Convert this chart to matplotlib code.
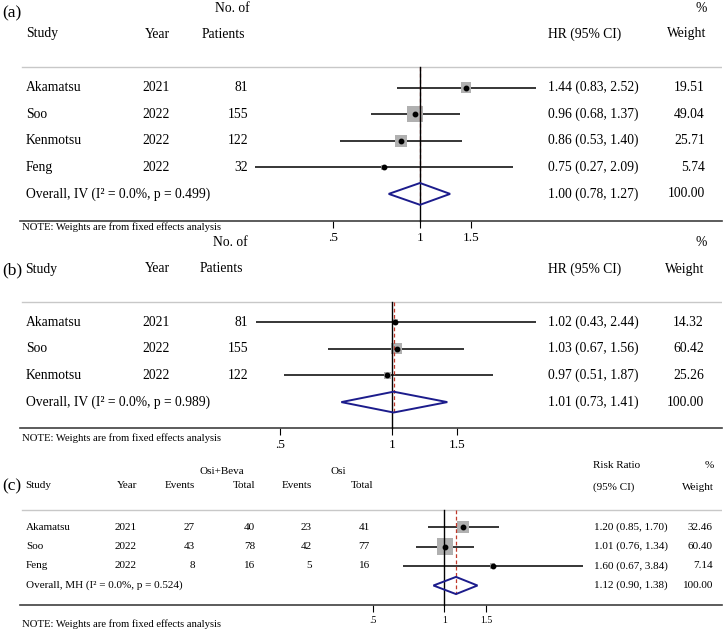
import numpy as np
import matplotlib
matplotlib.use('Agg')
import matplotlib.pyplot as plt
from matplotlib.patches import Polygon
from matplotlib.transforms import blended_transform_factory

plt.rcParams['font.family'] = ['Liberation Serif', 'DejaVu Serif']

# ---- data ----
# (a) HR
studies_a = ['Akamatsu', 'Soo', 'Kenmotsu', 'Feng']
years_a = [2021, 2022, 2022, 2022]
patients_a = [81, 155, 122, 32]
hr_a = [1.44, 0.96, 0.86, 0.75]
lo_a = [0.83, 0.68, 0.53, 0.27]
hi_a = [2.52, 1.37, 1.40, 2.09]
weight_a = [19.51, 49.04, 25.71, 5.74]
overall_a = [1.00, 0.78, 1.27]
overall_label_a = 'Overall, IV (I² = 0.0%, p = 0.499)'

# (b) HR
studies_b = ['Akamatsu', 'Soo', 'Kenmotsu']
years_b = [2021, 2022, 2022]
patients_b = [81, 155, 122]
hr_b = [1.02, 1.03, 0.97]
lo_b = [0.43, 0.67, 0.51]
hi_b = [2.44, 1.56, 1.87]
weight_b = [14.32, 60.42, 25.26]
overall_b = [1.01, 0.73, 1.41]
overall_label_b = 'Overall, IV (I² = 0.0%, p = 0.989)'

# (c) risk ratio
studies_c = ['Akamatsu', 'Soo', 'Feng']
years_c = [2021, 2022, 2022]
events_osibeva = [27, 43, 8]
total_osibeva = [40, 78, 16]
events_osi = [23, 42, 5]
total_osi = [41, 77, 16]
rr_c = [1.20, 1.01, 1.60]
lo_c = [0.85, 0.76, 0.67]
hi_c = [1.70, 1.34, 3.84]
weight_c = [32.46, 60.40, 7.14]
overall_c = [1.12, 0.90, 1.38]
overall_label_c = 'Overall, MH (I² = 0.0%, p = 0.524)'

tick_vals = [0.5, 1, 1.5]
tick_labels = ['.5', '1', '1.5']
note = 'NOTE: Weights are from fixed effects analysis'

W, H = 727, 629
fig = plt.figure(figsize=(W / 100, H / 100), dpi=100)


def make_panel(row0, sp, axis_px, top_px, p1, s, fs, tick_fs):
    ax = fig.add_axes([20 / W, 1 - axis_px / H, 702 / W, (axis_px - top_px) / H])
    ax.set_xscale('log')
    ax.set_xlim(np.exp((20 - p1) / s), np.exp((722 - p1) / s))
    ax.set_ylim((axis_px - row0) / sp, (top_px - row0) / sp)
    for side in ['top', 'left', 'right']:
        ax.spines[side].set_visible(False)
    ax.spines['bottom'].set_color('#404040')
    ax.spines['bottom'].set_linewidth(1.2)
    ax.set_yticks([])
    ax.set_xticks(tick_vals)
    ax.set_xticklabels(tick_labels)
    ax.set_xticks([], minor=True)
    ax.tick_params(axis='x', length=5, width=0.8, labelsize=tick_fs, pad=3, colors='black')
    ax.patch.set_visible(False)
    ax.tr = blended_transform_factory(fig.transFigure, ax.transData)
    ax.to_row = lambda px: (px - row0) / sp
    ax.fs = fs
    return ax


def txt(ax, px, y, s, ha='left'):
    ax.text(px / W, y, s, transform=ax.tr, ha=ha, va='center', fontsize=ax.fs)


def forest(ax, est, lo, hi, w, k, ov, dh, sep_y):
    y = np.arange(len(est))
    ax.hlines(y, lo, hi, color='black', lw=1.1, zorder=2)
    side = k * np.sqrt(np.array(w)) * 0.72
    ax.scatter(est, y, marker='s', s=side ** 2, color='#b0b0b0', linewidths=0, zorder=3)
    ax.plot(est, y, 'o', color='black', ms=3.2, zorder=5)
    yo = len(est)
    ax.add_patch(Polygon([(ov[1], yo), (ov[0], yo - dh), (ov[2], yo), (ov[0], yo + dh)],
                         closed=True, fill=False, ec='#1c1c8c', lw=1.4, zorder=4))
    ax.plot([ov[0], ov[0]], [sep_y, yo + dh], color='#c0392b', lw=0.9,
            ls=(0, (3, 2)), zorder=3.5)
    ax.plot([1, 1], [sep_y, ax.get_ylim()[0]], color='black', lw=1, zorder=3.6, clip_on=False)
    ax.axhline(sep_y, xmin=2 / 702, xmax=1, color='#c8c8c8', lw=1)


# ---- panel (a) ----
ax = make_panel(87.5, 26.6, 221, 0, 420, 126, 9.8, 9.5)
r = ax.to_row
txt(ax, 250, r(8), 'No. of', 'right')
txt(ax, 707, r(8), '%', 'right')
txt(ax, 26, r(34), 'Study')
txt(ax, 170, r(34), 'Year', 'right')
txt(ax, 245, r(34), 'Patients', 'right')
txt(ax, 548, r(34), 'HR (95% CI)')
txt(ax, 706, r(34), 'Weight', 'right')
for i in range(len(studies_a)):
    txt(ax, 26, i, studies_a[i])
    txt(ax, 170, i, str(years_a[i]), 'right')
    txt(ax, 248, i, str(patients_a[i]), 'right')
    txt(ax, 548, i, f'{hr_a[i]:.2f} ({lo_a[i]:.2f}, {hi_a[i]:.2f})')
    txt(ax, 705, i, f'{weight_a[i]:.2f}', 'right')
n = len(studies_a)
txt(ax, 26, n, overall_label_a)
txt(ax, 548, n, f'{overall_a[0]:.2f} ({overall_a[1]:.2f}, {overall_a[2]:.2f})')
txt(ax, 705, n, '100.00', 'right')
forest(ax, hr_a, lo_a, hi_a, weight_a, 2.29, overall_a, 0.41, r(67))
fig.text(22 / W, 1 - 227 / H, note, fontsize=7.7, va='center')
fig.text(2 / W, 1 - 13 / H, '(a)', fontsize=12.5, va='center')

# ---- panel (b) ----
ax = make_panel(322, 26.7, 428, 236, 392, 161, 9.8, 9.5)
r = ax.to_row
txt(ax, 248, r(242), 'No. of', 'right')
txt(ax, 707, r(243), '%', 'right')
txt(ax, 25, r(269), 'Study')
txt(ax, 170, r(269), 'Year', 'right')
txt(ax, 243, r(269), 'Patients', 'right')
txt(ax, 548, r(269), 'HR (95% CI)')
txt(ax, 704, r(269), 'Weight', 'right')
for i in range(len(studies_b)):
    txt(ax, 26, i, studies_b[i])
    txt(ax, 170, i, str(years_b[i]), 'right')
    txt(ax, 248, i, str(patients_b[i]), 'right')
    txt(ax, 548, i, f'{hr_b[i]:.2f} ({lo_b[i]:.2f}, {hi_b[i]:.2f})')
    txt(ax, 704, i, f'{weight_b[i]:.2f}', 'right')
n = len(studies_b)
txt(ax, 26, n, overall_label_b)
txt(ax, 548, n, f'{overall_b[0]:.2f} ({overall_b[1]:.2f}, {overall_b[2]:.2f})')
txt(ax, 704, n, '100.00', 'right')
forest(ax, hr_b, lo_b, hi_b, weight_b, 1.42, overall_b, 0.39, r(302))
fig.text(22 / W, 1 - 438 / H, note, fontsize=7.7, va='center')
fig.text(2 / W, 1 - 270 / H, '(b)', fontsize=12.5, va='center')

# ---- panel (c) ----
ax = make_panel(527, 19.5, 605, 458, 444.3, 103, 8.0, 7.0)
r = ax.to_row
txt(ax, 222, r(472), 'Osi+Beva', 'center')
txt(ax, 338, r(472), 'Osi', 'center')
txt(ax, 593, r(466), 'Risk Ratio')
txt(ax, 714, r(466), '%', 'right')
txt(ax, 25, r(486), 'Study')
txt(ax, 137, r(486), 'Year', 'right')
txt(ax, 195, r(486), 'Events', 'right')
txt(ax, 255, r(486), 'Total', 'right')
txt(ax, 312, r(486), 'Events', 'right')
txt(ax, 373, r(486), 'Total', 'right')
txt(ax, 593, r(487), '(95% CI)')
txt(ax, 714, r(487), 'Weight', 'right')
for i in range(len(studies_c)):
    txt(ax, 26, i, studies_c[i])
    txt(ax, 137, i, str(years_c[i]), 'right')
    txt(ax, 195, i, str(events_osibeva[i]), 'right')
    txt(ax, 255, i, str(total_osibeva[i]), 'right')
    txt(ax, 312, i, str(events_osi[i]), 'right')
    txt(ax, 370, i, str(total_osi[i]), 'right')
    txt(ax, 594, i, f'{rr_c[i]:.2f} ({lo_c[i]:.2f}, {hi_c[i]:.2f})')
    txt(ax, 713, i, f'{weight_c[i]:.2f}', 'right')
n = len(studies_c)
txt(ax, 26, n, overall_label_c)
txt(ax, 594, n, f'{overall_c[0]:.2f} ({overall_c[1]:.2f}, {overall_c[2]:.2f})')
txt(ax, 713, n, '100.00', 'right')
forest(ax, rr_c, lo_c, hi_c, weight_c, 2.06, overall_c, 0.44, r(510))
fig.text(22 / W, 1 - 624 / H, note, fontsize=7.7, va='center')
fig.text(2 / W, 1 - 486 / H, '(c)', fontsize=12.5, va='center')

fig.savefig('out.png', dpi=100)
